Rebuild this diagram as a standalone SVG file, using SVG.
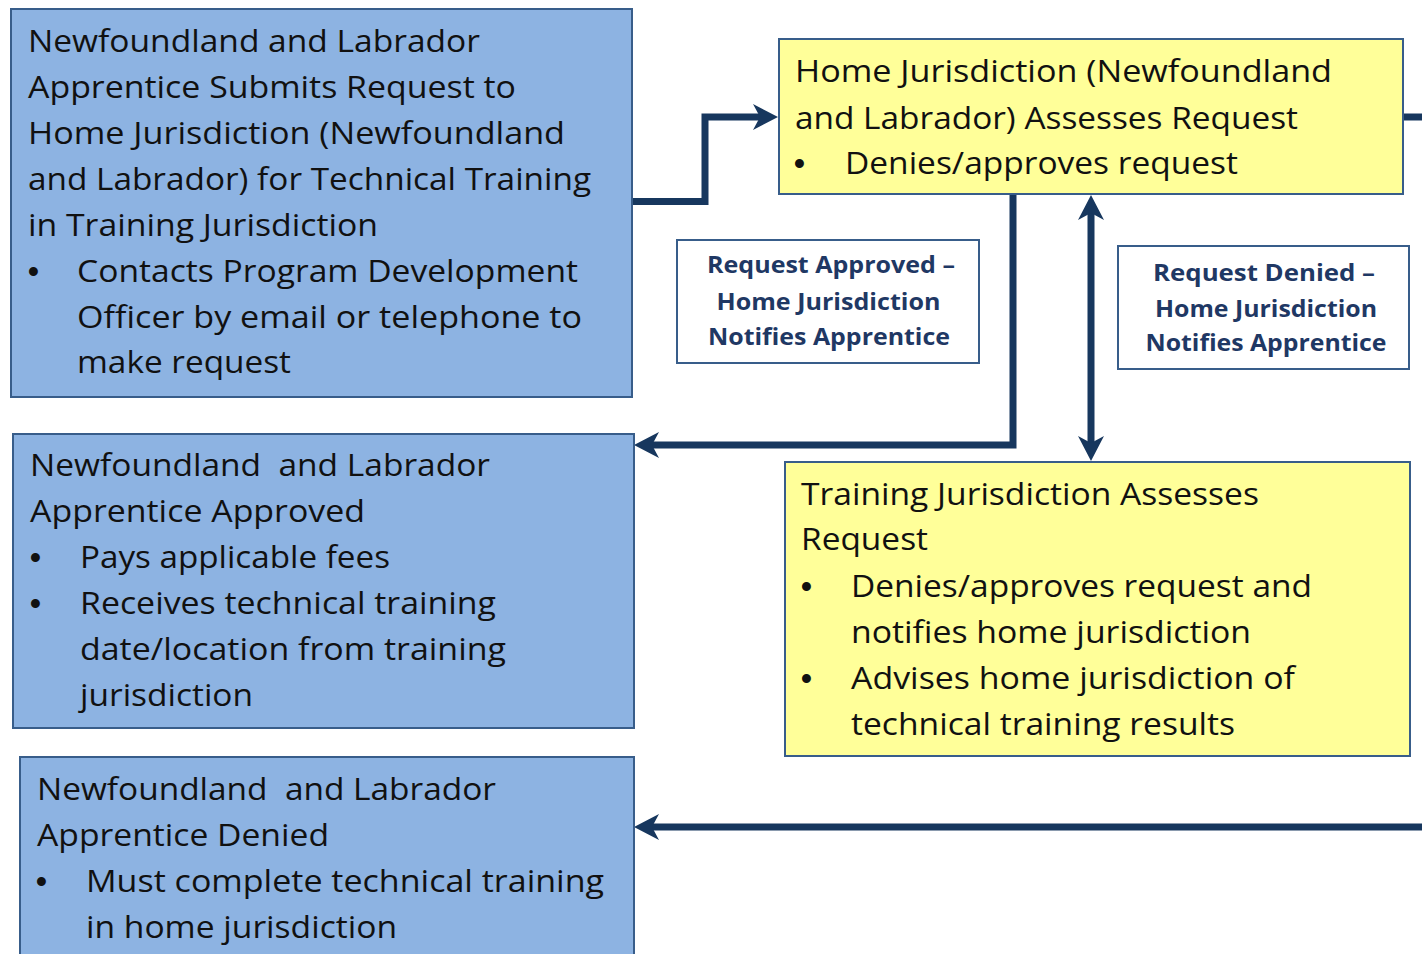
<svg xmlns="http://www.w3.org/2000/svg" width="1422" height="954" viewBox="0 0 1422 954">
<style>
.blue{fill:#8DB3E2;stroke:#385D8A;stroke-width:2}
.yel{fill:#FFFF99;stroke:#385D8A;stroke-width:2}
.lab{fill:#FFFFFF;stroke:#385D8A;stroke-width:2}
.t{font-family:"Open Sans","Liberation Sans",sans-serif;font-size:31px;fill:#111111}
.b{font-family:"Liberation Sans",sans-serif;font-size:31px;font-weight:bold;fill:#111111}
.l{font-family:"Open Sans","Liberation Sans",sans-serif;font-size:24px;font-weight:bold;fill:#1F3864;text-anchor:middle}
.c{fill:none;stroke:#17375E;stroke-width:7;stroke-linejoin:miter;stroke-linecap:butt}
</style>
<defs>
<marker id="ah" markerUnits="userSpaceOnUse" viewBox="0 0 25 26" refX="15" refY="13" markerWidth="25" markerHeight="26" orient="auto-start-reverse">
<path d="M0,0 L25,13 L0,26 L7,13 Z" fill="#17375E"/>
</marker>
</defs>
<rect width="1422" height="954" fill="#FFFFFF"/>

<g id="connectors">
<path class="c" d="M632,201.5 H705 V117 H768" marker-end="url(#ah)"/>
<path class="c" d="M1013,194 V445 H644" marker-end="url(#ah)"/>
<path class="c" d="M1091,205 V451" marker-start="url(#ah)" marker-end="url(#ah)"/>
<path class="c" d="M1422,827 H644" marker-end="url(#ah)"/>
<path class="c" d="M1404,117 H1422"/>
</g>

<g id="node-nl-submits">
<rect class="blue" x="11" y="9" width="621" height="388"/>
<text class="t" x="28" y="52" textLength="452" lengthAdjust="spacingAndGlyphs">Newfoundland and Labrador</text>
<text class="t" x="28" y="98" textLength="488" lengthAdjust="spacingAndGlyphs">Apprentice Submits Request to</text>
<text class="t" x="28" y="144" textLength="537" lengthAdjust="spacingAndGlyphs">Home Jurisdiction (Newfoundland</text>
<text class="t" x="28" y="190" textLength="563" lengthAdjust="spacingAndGlyphs">and Labrador) for Technical Training</text>
<text class="t" x="28" y="236" textLength="350" lengthAdjust="spacingAndGlyphs">in Training Jurisdiction</text>
<text class="b" x="28" y="282">•</text>
<text class="t" x="77" y="282" textLength="501" lengthAdjust="spacingAndGlyphs">Contacts Program Development</text>
<text class="t" x="77" y="328" textLength="505" lengthAdjust="spacingAndGlyphs">Officer by email or telephone to</text>
<text class="t" x="77" y="373" textLength="214" lengthAdjust="spacingAndGlyphs">make request</text>
</g>

<g id="node-nl-approved">
<rect class="blue" x="13" y="434" width="621" height="294"/>
<text class="t" x="30" y="476" textLength="460" lengthAdjust="spacingAndGlyphs" xml:space="preserve">Newfoundland  and Labrador</text>
<text class="t" x="30" y="522" textLength="335" lengthAdjust="spacingAndGlyphs">Apprentice Approved</text>
<text class="b" x="30" y="568">•</text>
<text class="t" x="80" y="568" textLength="310" lengthAdjust="spacingAndGlyphs">Pays applicable fees</text>
<text class="b" x="30" y="614">•</text>
<text class="t" x="80" y="614" textLength="416" lengthAdjust="spacingAndGlyphs">Receives technical training</text>
<text class="t" x="80" y="660" textLength="426" lengthAdjust="spacingAndGlyphs">date/location from training</text>
<text class="t" x="80" y="706" textLength="173" lengthAdjust="spacingAndGlyphs">jurisdiction</text>
</g>

<g id="node-nl-denied">
<rect class="blue" x="20" y="757" width="614" height="210"/>
<text class="t" x="37" y="800" textLength="459" lengthAdjust="spacingAndGlyphs" xml:space="preserve">Newfoundland  and Labrador</text>
<text class="t" x="37" y="846" textLength="292" lengthAdjust="spacingAndGlyphs">Apprentice Denied</text>
<text class="b" x="36" y="892">•</text>
<text class="t" x="86" y="892" textLength="518" lengthAdjust="spacingAndGlyphs">Must complete technical training</text>
<text class="t" x="86" y="938" textLength="311" lengthAdjust="spacingAndGlyphs">in home jurisdiction</text>
</g>

<g id="node-home-assesses">
<rect class="yel" x="779" y="39" width="624" height="155"/>
<text class="t" x="795" y="82" textLength="537" lengthAdjust="spacingAndGlyphs">Home Jurisdiction (Newfoundland</text>
<text class="t" x="795" y="129" textLength="503" lengthAdjust="spacingAndGlyphs">and Labrador) Assesses Request</text>
<text class="b" x="794" y="174">•</text>
<text class="t" x="845" y="174" textLength="393" lengthAdjust="spacingAndGlyphs">Denies/approves request</text>
</g>

<g id="node-training-assesses">
<rect class="yel" x="785" y="462" width="625" height="294"/>
<text class="t" x="801" y="505" textLength="458" lengthAdjust="spacingAndGlyphs">Training Jurisdiction Assesses</text>
<text class="t" x="801" y="550" textLength="127" lengthAdjust="spacingAndGlyphs">Request</text>
<text class="b" x="801" y="597">•</text>
<text class="t" x="851" y="597" textLength="461" lengthAdjust="spacingAndGlyphs">Denies/approves request and</text>
<text class="t" x="851" y="643" textLength="400" lengthAdjust="spacingAndGlyphs">notifies home jurisdiction</text>
<text class="b" x="801" y="689">•</text>
<text class="t" x="851" y="689" textLength="444" lengthAdjust="spacingAndGlyphs">Advises home jurisdiction of</text>
<text class="t" x="851" y="735" textLength="384" lengthAdjust="spacingAndGlyphs">technical training results</text>
</g>

<g id="label-approved">
<rect class="lab" x="677" y="240" width="302" height="123"/>
<text class="l" x="831" y="273" textLength="248" lengthAdjust="spacingAndGlyphs">Request Approved –</text>
<text class="l" x="828.5" y="310" textLength="224" lengthAdjust="spacingAndGlyphs">Home Jurisdiction</text>
<text class="l" x="829" y="345" textLength="242" lengthAdjust="spacingAndGlyphs">Notifies Apprentice</text>
</g>

<g id="label-denied">
<rect class="lab" x="1118" y="246" width="291" height="123"/>
<text class="l" x="1264" y="281" textLength="222" lengthAdjust="spacingAndGlyphs">Request Denied –</text>
<text class="l" x="1266" y="317" textLength="222" lengthAdjust="spacingAndGlyphs">Home Jurisdiction</text>
<text class="l" x="1266" y="351" textLength="241" lengthAdjust="spacingAndGlyphs">Notifies Apprentice</text>
</g>
</svg>
